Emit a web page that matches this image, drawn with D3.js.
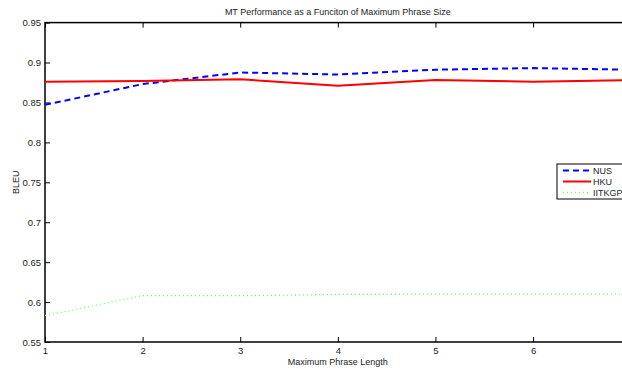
<!DOCTYPE html>
<html><head><meta charset="utf-8">
<script src="https://cdn.jsdelivr.net/npm/d3@7"></script>
<style>body{margin:0;background:#fff}svg{display:block}text{font-family:"Liberation Sans",Arial,sans-serif;fill:#222}</style>
</head><body><svg id="c" width="622" height="369"></svg>
<script>
const xs = [1,2,3,4,5,6,7];
const nus = [0.847,0.873,0.8875,0.885,0.891,0.893,0.891];
const hku = [0.876,0.877,0.879,0.871,0.878,0.876,0.878];
const iitkgp = [0.583,0.608,0.608,0.6095,0.61,0.61,0.61];
const yTicks = [0.55,0.6,0.65,0.7,0.75,0.8,0.85,0.9,0.95];
const xTicks = [1,2,3,4,5,6];
const seriesNames = ["NUS","HKU","IITKGP"];
const seriesColors = ["#0000ff","#ff0000","#66ff66"];
const seriesDash = ["6,4",null,"1,3"];
const seriesData = [nus,hku,iitkgp];

const svg = d3.select("#c");
const L=45, R=630.7, T=22.6, B=342;
const x = d3.scaleLinear().domain([1,7]).range([L,R]);
const y = d3.scaleLinear().domain([0.55,0.95]).range([B,T]);

svg.append("rect").attr("x",L).attr("y",T).attr("width",R-L).attr("height",B-T)
  .attr("fill","#fff").attr("stroke","#000").attr("stroke-width",1.5);

const fmt = d => String(+d.toFixed(2));
const gx = svg.append("g").attr("transform",`translate(0,${B})`)
  .call(d3.axisBottom(x).tickValues(xTicks).tickSize(-5).tickPadding(5).tickFormat(d3.format("d")));
const gxt = svg.append("g").attr("transform",`translate(0,${T})`)
  .call(d3.axisTop(x).tickValues(xTicks).tickSize(-5).tickFormat(""));
const gy = svg.append("g").attr("transform",`translate(${L},0)`)
  .call(d3.axisLeft(y).tickValues(yTicks).tickSize(-5).tickPadding(4).tickFormat(fmt));
[gx,gxt,gy].forEach(g=>{
  g.select(".domain").remove();
  g.selectAll(".tick line").attr("stroke","#000").attr("stroke-width",1);
  g.selectAll("text").attr("font-size",9.5).attr("fill","#222").attr("font-family","Liberation Sans, Arial, sans-serif");
});

const line = d3.line().x((d,i)=>x(xs[i])).y(d=>y(d));
seriesData.forEach((s,k)=>{
  svg.append("path").datum(s).attr("d",line).attr("fill","none")
    .attr("stroke",seriesColors[k]).attr("stroke-width",k===2?1.3:2)
    .attr("stroke-dasharray",seriesDash[k]);
});

svg.append("text").attr("x",(L+R)/2).attr("y",15).attr("text-anchor","middle")
  .attr("font-size",9).text("MT Performance as a Funciton of Maximum Phrase Size");
svg.append("text").attr("x",(L+R)/2).attr("y",365).attr("text-anchor","middle")
  .attr("font-size",9).text("Maximum Phrase Length");
svg.append("text").attr("transform",`translate(19,${(T+B)/2}) rotate(-90)`).attr("text-anchor","middle")
  .attr("font-size",9).text("BLEU");

const lg = svg.append("g");
lg.append("rect").attr("x",557).attr("y",164).attr("width",80).attr("height",35)
  .attr("fill","#fff").attr("stroke","#000").attr("stroke-width",1);
seriesNames.forEach((n,k)=>{
  const yy = 170.5 + k*11;
  lg.append("line").attr("x1",563).attr("x2",591).attr("y1",yy).attr("y2",yy)
    .attr("stroke",seriesColors[k]).attr("stroke-width",k===2?1.3:2).attr("stroke-dasharray",seriesDash[k]);
  lg.append("text").attr("x",593).attr("y",yy+3.5).attr("font-size",9).text(n);
});
</script></body></html>
